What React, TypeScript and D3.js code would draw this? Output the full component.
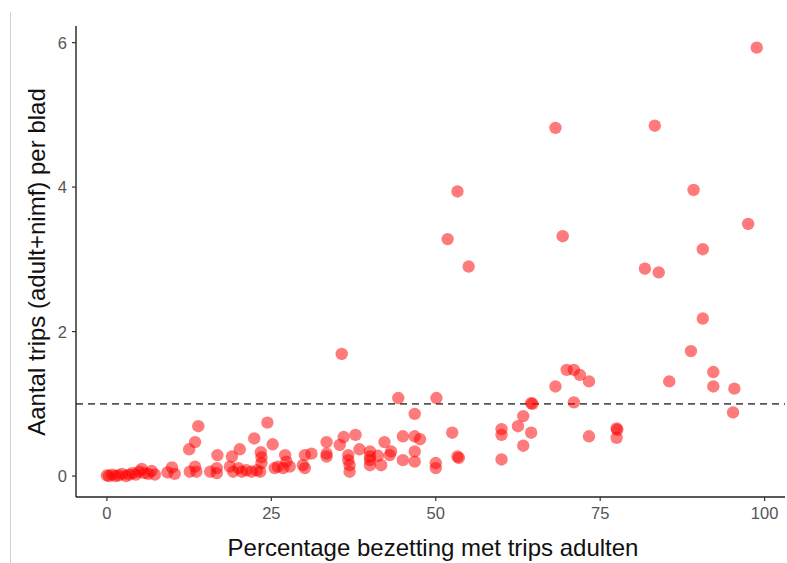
import React from "react";
import * as d3 from "d3";

const pctAdults: number[] = [
  0, 0.3, 0.8, 1.3, 1.8, 2.3, 2.9, 3.4, 3.9, 4.4, 4.9, 5.3, 5.7, 6.3, 6.8, 7.3,
  9.2, 9.9, 10.3, 12.6, 12.5, 13.4, 13.9, 13.4, 13.6,
  15.7, 16.7, 16.7, 16.8, 18.7, 19.0, 19.2, 20.0, 20.2, 20.5, 21.2, 22.0, 22.4, 22.8, 23.3, 23.4, 23.5, 23.5, 24.4, 25.2,
  25.5, 26.0, 26.8, 27.1, 27.3, 27.8, 29.8, 30.1, 30.1, 31.1,
  33.4, 33.4, 33.4, 35.4, 35.7, 36.0, 36.7, 36.7, 36.9, 36.9, 37.8, 38.4, 40.0, 40.0, 40.0, 40.0, 41.2, 41.7, 42.2,
  43.2, 43.0, 44.3, 45.0, 45.0, 46.8, 46.8, 47.6, 46.8, 46.8, 50.1, 50.0, 50.0,
  51.8, 52.5, 53.3, 53.3, 53.5, 55.0,
  60.0, 60.0, 60.0, 62.5, 63.3, 63.3, 64.5, 64.7, 64.5,
  68.2, 68.2, 69.3, 69.9, 71.0, 71.9, 73.3, 71.0, 73.3, 77.5, 77.6, 77.5,
  81.8, 83.3, 83.9, 85.5, 88.8, 89.2, 90.6, 90.6, 92.2, 92.2, 95.4, 95.2, 97.5, 98.8,
];

const tripsPerLeaf: number[] = [
  0.01, 0.0, 0.02, 0.0, 0.01, 0.03, 0.0, 0.02, 0.04, 0.02, 0.06, 0.1, 0.04, 0.03, 0.07, 0.02,
  0.05, 0.12, 0.03, 0.06, 0.37, 0.47, 0.69, 0.13, 0.06,
  0.06, 0.11, 0.04, 0.29, 0.13, 0.27, 0.06, 0.11, 0.37, 0.06, 0.08, 0.06, 0.52, 0.08, 0.06, 0.33, 0.26, 0.18, 0.74, 0.44,
  0.11, 0.13, 0.11, 0.29, 0.2, 0.13, 0.15, 0.29, 0.11, 0.31,
  0.47, 0.31, 0.27, 0.43, 1.69, 0.54, 0.29, 0.22, 0.15, 0.06, 0.57, 0.37, 0.34, 0.27, 0.22, 0.15, 0.28, 0.15, 0.47,
  0.34, 0.29, 1.08, 0.55, 0.22, 0.86, 0.55, 0.51, 0.34, 0.2, 1.08, 0.18, 0.11,
  3.28, 0.6, 3.94, 0.27, 0.25, 2.9,
  0.65, 0.57, 0.23, 0.69, 0.83, 0.42, 1.01, 1.0, 0.6,
  4.82, 1.24, 3.32, 1.47, 1.47, 1.4, 1.31, 1.02, 0.55, 0.66, 0.64, 0.53,
  2.87, 4.85, 2.82, 1.31, 1.73, 3.96, 3.14, 2.18, 1.44, 1.24, 1.21, 0.88, 3.49, 5.93,
];

const xTicks: number[] = [0, 25, 50, 75, 100];
const yTicks: number[] = [0, 2, 4, 6];
const threshold: number[] = [1];

const xLabel = "Percentage bezetting met trips adulten";
const yLabel = "Aantal trips (adult+nimf) per blad";

const W = 787;
const H = 563;
const left = 76;
const right = 785;
const top = 26;
const bottom = 497;

export default function App() {
  const x = d3.scaleLinear().domain([-4.7, 103.1]).range([left, right]);
  const y = d3.scaleLinear().domain([-0.29, 6.23]).range([bottom, top]);
  const font = "'Liberation Sans', Arial, sans-serif";
  const points = pctAdults.map((v, i) => ({ x: v, y: tripsPerLeaf[i] }));

  return (
    <svg
      width={W}
      height={H}
      style={{ position: "absolute", left: 0, top: 0, background: "#fff" }}
      fontFamily={font}
    >
      <rect x={0} y={0} width={W} height={H} fill="#fff" />
      <line x1={10.5} x2={10.5} y1={12} y2={H} stroke="#d0d0d0" strokeWidth={1} />
      {threshold.map((t) => (
        <line
          key={t}
          x1={left}
          x2={right}
          y1={y(t)}
          y2={y(t)}
          stroke="#555"
          strokeWidth={1.8}
          strokeDasharray="7,5"
        />
      ))}
      {points.map((p, i) => (
        <circle key={i} cx={x(p.x)} cy={y(p.y)} r={6.2} fill="#ff0000" fillOpacity={0.52} />
      ))}
      {/* axes */}
      <line x1={left} x2={left} y1={top} y2={bottom} stroke="#222" strokeWidth={1.4} />
      <line x1={left} x2={right} y1={bottom} y2={bottom} stroke="#222" strokeWidth={1.4} />
      {xTicks.map((t) => (
        <g key={"x" + t}>
          <line x1={x(t)} x2={x(t)} y1={bottom} y2={bottom + 4} stroke="#333" strokeWidth={1.2} />
          <text x={x(t)} y={bottom + 22} textAnchor="middle" fontSize={16.5} fill="#555">
            {t}
          </text>
        </g>
      ))}
      {yTicks.map((t) => (
        <g key={"y" + t}>
          <line x1={left - 4} x2={left} y1={y(t)} y2={y(t)} stroke="#333" strokeWidth={1.2} />
          <text x={left - 9} y={y(t) + 6} textAnchor="end" fontSize={16.5} fill="#555">
            {t}
          </text>
        </g>
      ))}
      <text x={433} y={556} textAnchor="middle" fontSize={24} fill="#111">
        {xLabel}
      </text>
      <text
        transform={`translate(45, 262) rotate(-90)`}
        textAnchor="middle"
        fontSize={24}
        fill="#111"
      >
        {yLabel}
      </text>
    </svg>
  );
}
